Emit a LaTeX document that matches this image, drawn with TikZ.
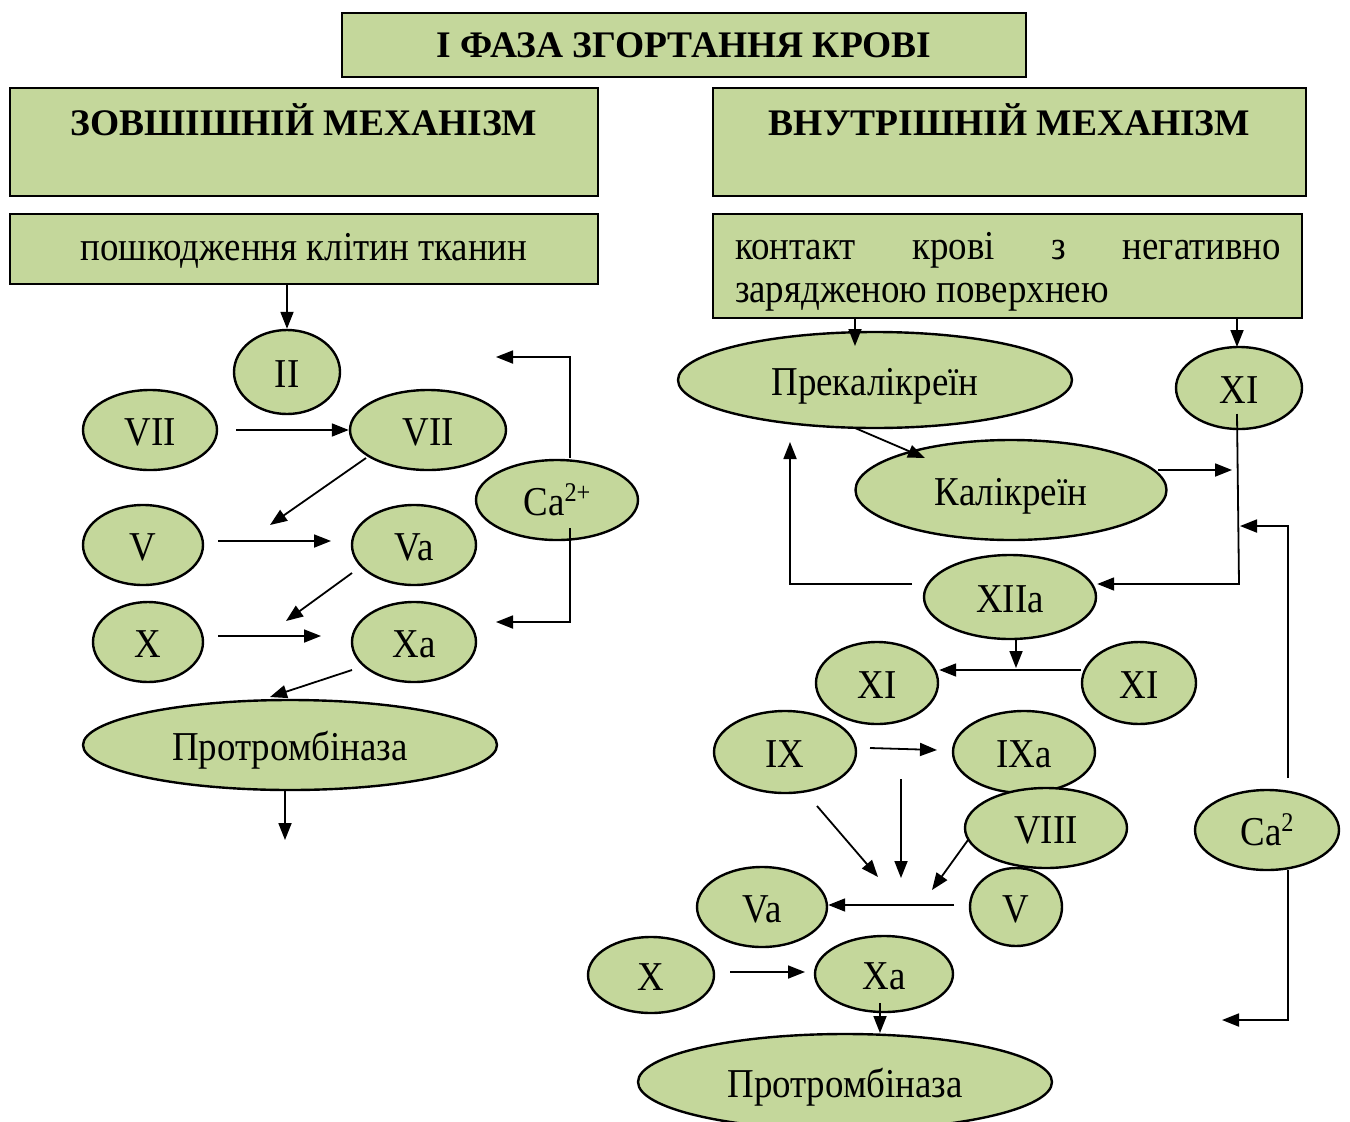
\documentclass[tikz,border=0pt]{standalone}
\usepackage{fontspec}
\setmainfont{Liberation Serif}[FakeStretch=0.9]
\newfontfamily\hdfont{Liberation Serif}
\usetikzlibrary{shapes.geometric,arrows.meta}
\definecolor{lg}{RGB}{196,215,155}
\newcommand{\supx}[1]{\raisebox{14pt}{\fontsize{27pt}{27pt}\selectfont #1}}
\begin{document}
\begin{tikzpicture}[x=1pt,y=-1pt,
  every node/.style={font=\fontsize{41pt}{47pt}\selectfont},
  hd/.style={font=\hdfont\bfseries\fontsize{37.5pt}{44pt}\selectfont},
  box/.style={draw, fill=lg, line width=2pt, rectangle, inner sep=0pt},
  ell/.style={draw, fill=lg, line width=2.4pt, ellipse, inner sep=0pt, text height=30pt, text depth=0pt},
  arr/.style={line width=1.8pt, -{Triangle[length=17pt,width=13pt]}},
  ln/.style={line width=1.8pt}]
\useasboundingbox (0,0) rectangle (1350,1122);
\clip (0,0) rectangle (1350,1122);
% boxes
\node[box, hd, minimum width=684pt, minimum height=64pt] (title) at (684,45) {І ФАЗА ЗГОРТАННЯ КРОВІ};
\node[box, hd, minimum width=588pt, minimum height=108pt, align=center] (hl) at (304,142) {ЗОВШІШНІЙ МЕХАНІЗМ\\\mbox{}};
\node[box, hd, minimum width=593pt, minimum height=108pt, align=center] (hr) at (1009.5,142) {ВНУТРІШНІЙ МЕХАНІЗМ\\\mbox{}};
\node[box, minimum width=588pt, minimum height=70pt] (bl) at (304,249) {};
\node (blt) at (304,251) {пошкодження клітин тканин};
\node[box, minimum width=589pt, minimum height=104pt] (br) at (1007.5,266) {};
\node[text width=546pt, inner sep=0pt, align=justify, font=\fontsize{41pt}{43pt}\selectfont] (brt) at (1008,272) {контакт крові з негативно зарядженою поверхнею};
% left ellipses
\node[ell, minimum width=106pt, minimum height=84pt] (II) at (287,372) {II};
\node[ell, minimum width=134pt, minimum height=80pt] (VIIl) at (150,430) {VII};
\node[ell, minimum width=156pt, minimum height=80pt] (VIIr) at (428,430) {VII};
\node[ell, minimum width=162pt, minimum height=80pt] (CaL) at (557,500) {Ca\supx{2+}};
\node[ell, minimum width=120pt, minimum height=80pt] (Vl) at (143,545) {V};
\node[ell, minimum width=124pt, minimum height=80pt] (Val) at (414,545) {Va};
\node[ell, minimum width=110pt, minimum height=80pt] (Xl) at (148,642) {X};
\node[ell, minimum width=124pt, minimum height=80pt] (Xal) at (414,642) {Xa};
\node[ell, minimum width=414pt, minimum height=90pt] (Pl) at (290,745) {Протромбіназа};
% left arrows
\draw[arr] (bl.south -| II) -- (II.north);
\draw[arr] (236,430) -- (VIIr.west);
\coordinate (a1) at (270,525);
\draw[arr] (366,458) -- (a1);
\draw[arr] (218,541) -- (331,541);
\coordinate (a2) at (286,621);
\draw[arr] (352,573) -- (a2);
\draw[arr] (218,636) -- (321,636);
\draw[arr] (352,670) -- (270,697);
\draw[arr] (570,458) -- (570,357) -- (496,357);
\draw[arr] (570,528) -- (570,622) -- (496,622);
\coordinate (pend) at (285,840);
\draw[arr] (Pl.south -| pend) -- (pend);
% right ellipses
\node[ell, minimum width=394pt, minimum height=96pt] (Pk) at (875,380) {Прекалікреїн};
\node[ell, minimum width=126pt, minimum height=82pt] (XIa) at (1239,388) {XI};
\node[ell, minimum width=311pt, minimum height=100pt] (Kk) at (1011,490) {Калікреїн};
\node[ell, minimum width=172pt, minimum height=84pt] (XIIa) at (1010,597) {XIIa};
\node[ell, minimum width=122pt, minimum height=82pt] (XIb) at (877,683) {XI};
\node[ell, minimum width=114pt, minimum height=82pt] (XIc) at (1139,683) {XI};
\node[ell, minimum width=142pt, minimum height=82pt] (IX) at (785,752) {IX};
\node[ell, minimum width=142pt, minimum height=82pt] (IXa) at (1024,752) {IXa};
\node[ell, minimum width=162pt, minimum height=80pt] (VIII) at (1046,828) {VIII};
\node[ell, minimum width=144pt, minimum height=80pt] (CaR) at (1267,830) {Ca\supx{2}};
\node[ell, minimum width=92pt, minimum height=78pt] (Vr) at (1016,907) {V};
\node[ell, minimum width=130pt, minimum height=80pt] (Var) at (762,907) {Va};
\node[ell, minimum width=126pt, minimum height=76pt] (Xr) at (651,975) {X};
\node[ell, minimum width=138pt, minimum height=76pt] (Xar) at (884,974) {Xa};
\node[ell, minimum width=414pt, minimum height=96pt] (Pr) at (845,1082) {Протромбіназа};
% right arrows
\draw[arr] (855,318) -- (855,346);
\draw[arr] (1237,318) -- (1237,347);
\draw[arr] (855,428) -- (925,458);
\draw[arr] (1158,470) -- (1232,470);
\draw[arr] (1237,414) -- (1239,584) -- (XIIa.east |- 0,584);
\draw[arr] (1288,778) -- (1288,526) -- (1240,526);
\draw[arr] (1288,870) -- (1288,1020) -- (1222,1020);
\draw[arr] (912,584) -- (790,584) -- (790,442);
\draw[arr] (1016,638) -- (1016,668);
\draw[arr] (XIc.west |- 0,670) -- (XIb.east |- 0,670);
\draw[arr] (870,748) -- (937,750);
\draw[arr] (817,806) -- (878,877);
\draw[arr] (901,779) -- (901,878);
\draw[arr] (968,840) -- (932,890);
\draw[arr] (954,905) -- (Var.east |- 0,905);
\draw[arr] (730,972) -- (805,972);
\draw[arr] (880,1003) -- (880,1033);
\end{tikzpicture}
\end{document}
